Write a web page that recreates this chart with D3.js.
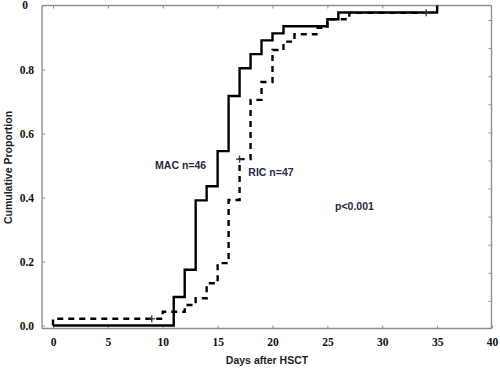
<!DOCTYPE html>
<html>
<head>
<meta charset="utf-8">
<script src="https://cdn.jsdelivr.net/npm/d3@7"></script>
<style>
  html, body { margin: 0; padding: 0; background: #fff; }
  svg { display: block; }
</style>
</head>
<body>
<svg id="chart" width="500" height="370"></svg>
<script>
// ---- data ----
const macDays   = [0, 11, 12, 13, 14, 15, 16, 17, 18, 19, 20, 21, 25, 26, 35];
const macValues = [0, 0.089, 0.174, 0.391, 0.435, 0.545, 0.717, 0.804, 0.848, 0.891, 0.913, 0.935, 0.957, 0.978, 1.0];

const ricDays   = [0, 0, 10, 12, 13, 14, 15, 16, 17, 18, 19, 20, 21, 22, 24, 25, 27, 34];
const ricValues = [0, 0.021, 0.043, 0.064, 0.085, 0.132, 0.195, 0.392, 0.52, 0.705, 0.761, 0.861, 0.887, 0.91, 0.93, 0.957, 0.977, 0.977];

const ricCensorDays   = [9, 17, 34];
const ricCensorValues = [0.021, 0.52, 0.977];

const xTickValues = [0, 5, 10, 15, 20, 25, 30, 35, 40];
const yTickValues = [0, 0.2, 0.4, 0.6, 0.8, 1.0];
const yTickLabels = ["0.0", "0.2", "0.4", "0.6", "0.8", "0"];
const rightTickValues = [1, 2, 3, 4, 5, 6, 7, 8, 9, 10, 11];

const labels = [
  { text: "MAC n=46", day: 9.3, value: 0.502 },
  { text: "RIC n=47", day: 17.8, value: 0.478 },
  { text: "p<0.001",  day: 25.7, value: 0.371 }
];

// ---- layout ----
const svg = d3.select("#chart");
const pLeft = 42, pRight = 491.5, pTop = 5.5, pBottom = 328.5;

const x = d3.scaleLinear().domain([0, 40]).range([53, 492]);
const y = d3.scaleLinear().domain([0, 1]).range([325.5, 5.5]);
const yRight = d3.scaleLinear().domain([0, 11]).range([329, 20]);

const frameColor = "#8f8f8f";
const tickFont = "'Liberation Serif', 'Times New Roman', serif";
const sansFont = "'Liberation Sans', Arial, sans-serif";

// frame
const frame = svg.append("g");
[[pLeft, pTop, pRight, pTop], [pRight, pTop, pRight, pBottom], [pLeft, pTop, pLeft, pBottom], [pLeft, pBottom, pRight, pBottom]]
  .forEach(([x1, y1, x2, y2]) => {
    frame.append("line").attr("x1", x1).attr("y1", y1).attr("x2", x2).attr("y2", y2)
      .attr("stroke", frameColor).attr("stroke-width", 1.4);
  });

// bottom axis
const xAxis = svg.append("g").attr("transform", `translate(0,${pBottom})`)
  .call(d3.axisBottom(x).tickValues(xTickValues).tickSize(-3).tickPadding(9).tickFormat(d3.format("d")));
xAxis.select(".domain").remove();
xAxis.selectAll("line").attr("stroke", frameColor);
xAxis.selectAll("text").attr("font-family", tickFont).attr("font-weight", "bold")
  .attr("font-size", 11.5).attr("fill", "#111");

// top axis ticks
const topAxis = svg.append("g").attr("transform", `translate(0,${pTop})`)
  .call(d3.axisTop(x).tickValues(xTickValues.filter(d => d < 40)).tickSize(-3).tickFormat(""));
topAxis.select(".domain").remove();
topAxis.selectAll("line").attr("stroke", frameColor);

// left axis
const yAxis = svg.append("g").attr("transform", `translate(${pLeft},0)`)
  .call(d3.axisLeft(y).tickValues(yTickValues).tickSize(-3).tickPadding(8)
    .tickFormat((d, i) => yTickLabels[i]));
yAxis.select(".domain").remove();
yAxis.selectAll("line").attr("stroke", frameColor);
yAxis.selectAll("text").attr("font-family", tickFont).attr("font-weight", "bold")
  .attr("font-size", 11.5).attr("fill", "#111");
yAxis.selectAll(".tick").filter(d => d === 1).select("text").attr("dx", -6).attr("dy", "0.3em");
yAxis.selectAll(".tick").filter(d => d === 1).select("line").remove();

// right axis ticks
const rAxis = svg.append("g").attr("transform", `translate(${pRight},0)`)
  .call(d3.axisRight(yRight).tickValues(rightTickValues).tickSize(-3).tickFormat(""));
rAxis.select(".domain").remove();
rAxis.selectAll("line").attr("stroke", frameColor);

// axis titles
svg.append("text").attr("x", 267).attr("y", 364)
  .attr("text-anchor", "middle").attr("font-family", sansFont).attr("font-weight", "bold")
  .attr("font-size", 10.5).attr("fill", "#222").text("Days after HSCT");
svg.append("text").attr("transform", "translate(12,167.5) rotate(-90)")
  .attr("text-anchor", "middle").attr("font-family", sansFont).attr("font-weight", "bold")
  .attr("font-size", 10.5).attr("fill", "#222").text("Cumulative Proportion");

// curves
const line = d3.line().x(d => x(d[0])).y(d => y(d[1])).curve(d3.curveStepAfter);
const ric = ricDays.map((d, i) => [d, ricValues[i]]);
const mac = macDays.map((d, i) => [d, macValues[i]]);

svg.append("path").datum(ric).attr("d", line)
  .attr("fill", "none").attr("stroke", "#000").attr("stroke-width", 2.4)
  .attr("stroke-dasharray", "6,5");

svg.append("path").datum(mac).attr("d", line)
  .attr("fill", "none").attr("stroke", "#000").attr("stroke-width", 2.4)
  .attr("stroke-linejoin", "miter");

// censor marks
const cens = svg.append("g");
ricCensorDays.forEach((d, i) => {
  const cx = x(d), cy = y(ricCensorValues[i]);
  cens.append("line").attr("x1", cx).attr("x2", cx).attr("y1", cy - 3.5).attr("y2", cy + 3.5)
    .attr("stroke", "#333").attr("stroke-width", 1.3);
  cens.append("line").attr("x1", cx - 3.5).attr("x2", cx + 3.5).attr("y1", cy).attr("y2", cy)
    .attr("stroke", "#333").attr("stroke-width", 1.3);
});

// annotations
svg.append("g").selectAll("text").data(labels).join("text")
  .attr("x", d => x(d.day)).attr("y", d => y(d.value))
  .attr("dy", "0.35em")
  .attr("font-family", sansFont).attr("font-weight", "bold")
  .attr("font-size", 10.5).attr("fill", "#1f2a44")
  .text(d => d.text);
</script>
</body>
</html>
